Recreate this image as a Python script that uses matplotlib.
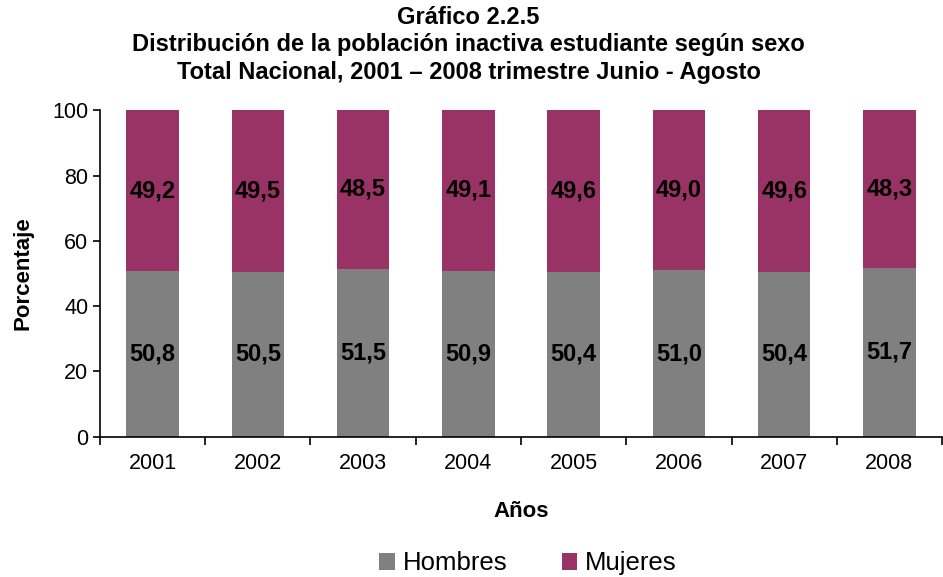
import numpy as np
import matplotlib.pyplot as plt

plt.rcParams['font.family'] = ['Liberation Sans', 'DejaVu Sans']

# Data
years = ['2001', '2002', '2003', '2004', '2005', '2006', '2007', '2008']
hombres = np.array([50.8, 50.5, 51.5, 50.9, 50.4, 51.0, 50.4, 51.7])
mujeres = np.array([49.2, 49.5, 48.5, 49.1, 49.6, 49.0, 49.6, 48.3])

gray = '#808080'
purple = '#993366'

fig = plt.figure(figsize=(9.43, 5.77), dpi=100)
ax = fig.add_axes([0.106, 0.243, 0.893, 0.566])

x = np.arange(len(years))
ax.bar(x, hombres, width=0.5, color=gray, label='Hombres')
ax.bar(x, mujeres, width=0.5, bottom=hombres, color=purple, label='Mujeres')

for i in range(len(years)):
    ax.text(x[i], hombres[i] / 2, f'{hombres[i]:.1f}'.replace('.', ','),
            ha='center', va='center', fontsize=17, fontweight='bold')
    ax.text(x[i], hombres[i] + mujeres[i] / 2, f'{mujeres[i]:.1f}'.replace('.', ','),
            ha='center', va='center', fontsize=17, fontweight='bold')

ax.set_xlim(-0.5, len(years) - 0.5)
ax.set_ylim(0, 100)
ax.set_yticks(range(0, 101, 20))
ax.tick_params(axis='y', labelsize=15.5, direction='out', length=5, width=1.2)

# category labels centred, tick marks on boundaries
ax.set_xticks(x)
ax.set_xticklabels(years, fontsize=15.5)
ax.tick_params(axis='x', length=0, pad=12)
ax.set_xticks(np.arange(-0.5, len(years)), minor=True)
ax.tick_params(axis='x', which='minor', direction='out', length=6, width=1.2)

for s in ['top', 'right']:
    ax.spines[s].set_visible(False)
ax.spines['left'].set_linewidth(1.2)
ax.spines['bottom'].set_linewidth(1.2)

ax.set_ylabel('Porcentaje', fontsize=16, fontweight='bold', labelpad=13.5)
ax.set_xlabel('Años', fontsize=16, fontweight='bold', labelpad=19)

fig.suptitle('Gráfico 2.2.5\nDistribución de la población inactiva estudiante según sexo\n'
             'Total Nacional, 2001 – 2008 trimestre Junio - Agosto',
             fontsize=17, fontweight='bold', y=0.99, linespacing=1.25, x=0.497)

fig.legend(loc='lower center', ncol=2, frameon=False, fontsize=18.5,
           handlelength=0.62, handleheight=0.62, handletextpad=0.3,
           columnspacing=2.1, bbox_to_anchor=(0.56, -0.037))

fig.savefig('out.png', dpi=100)
